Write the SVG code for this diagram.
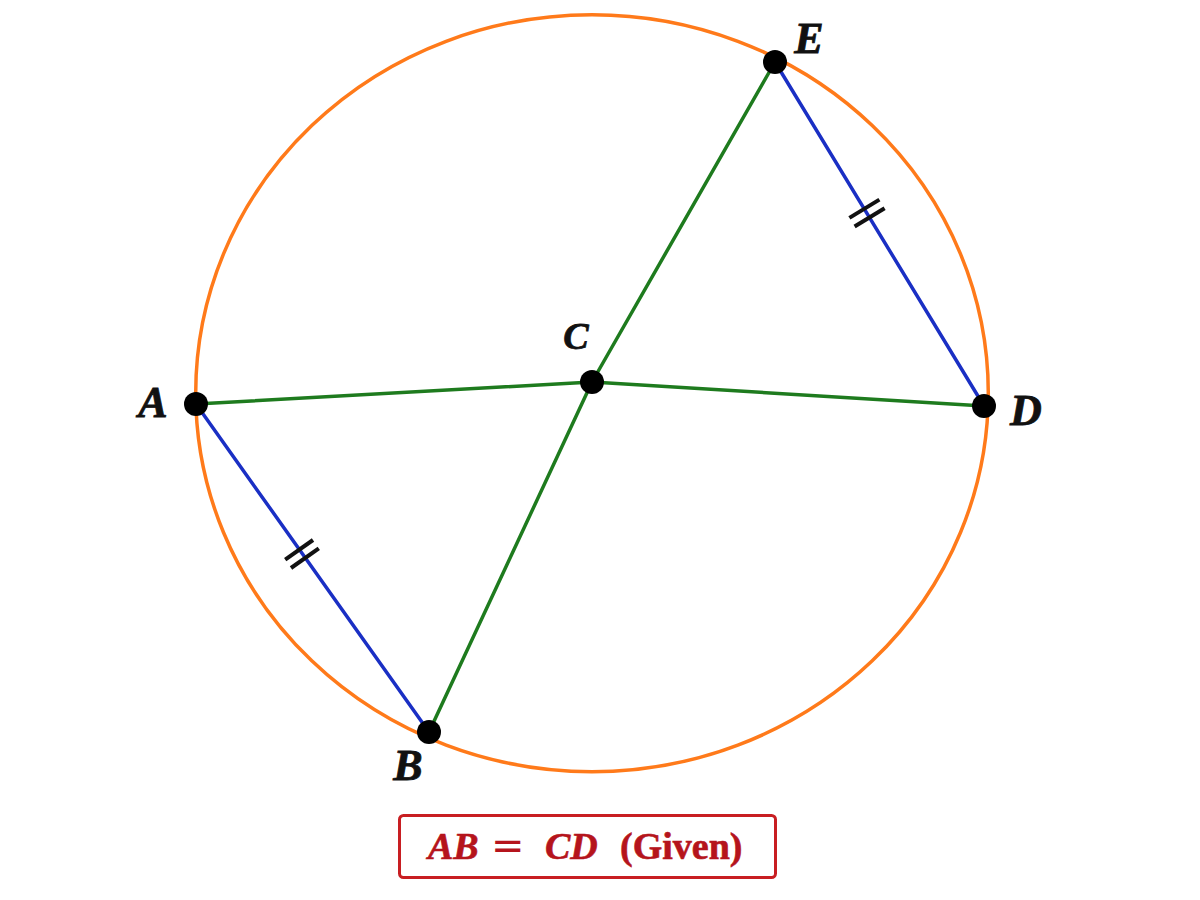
<svg xmlns="http://www.w3.org/2000/svg" width="1200" height="900" viewBox="0 0 1200 900">
  <style>
    .green { stroke: #1e7b1e; stroke-width: 3.5; fill: none; stroke-linecap: round; }
    .blue { stroke: #1a2fc4; stroke-width: 3.5; fill: none; stroke-linecap: round; }
    .tick { stroke: #111111; stroke-width: 4; stroke-linecap: butt; }
    .dot { fill: #000000; }
    .lbl { font-family: "Liberation Serif", "DejaVu Serif", serif; font-weight: bold; font-style: italic; font-size: 44px; fill: #111111; text-anchor: middle; stroke: #111111; stroke-width: 0.8; }
    .eq { font-family: "Liberation Serif", "DejaVu Serif", serif; font-weight: bold; font-size: 38px; fill: #b5141c; stroke: #b5141c; stroke-width: 0.6; }
  </style>
  <rect width="1200" height="900" fill="#ffffff"/>
  <g id="circle">
    <ellipse cx="592" cy="393.2" rx="396.3" ry="378.5" fill="none" stroke="#ff7a1a" stroke-width="3.5"/>
  </g>
  <g id="connectors">
    <line class="green" x1="196" y1="404" x2="592" y2="382"/>
    <line class="green" x1="592" y1="382" x2="984" y2="406"/>
    <line class="green" x1="775" y1="62" x2="592" y2="382"/>
    <line class="green" x1="592" y1="382" x2="429" y2="732"/>
    <line class="blue" x1="196" y1="404" x2="429" y2="732"/>
    <line class="blue" x1="775" y1="62" x2="984" y2="406"/>
    <line class="tick" x1="285.2" y1="559.7" x2="313" y2="540"/>
    <line class="tick" x1="291" y1="568" x2="318.8" y2="548.3"/>
    <line class="tick" x1="849.4" y1="217.9" x2="879.4" y2="199.6"/>
    <line class="tick" x1="854.6" y1="226.5" x2="884.6" y2="208.2"/>
  </g>
  <g id="node-A">
    <circle class="dot" cx="196" cy="404" r="12"/>
    <text class="lbl" x="153" y="417">A</text>
  </g>
  <g id="node-B">
    <circle class="dot" cx="429" cy="732" r="12"/>
    <text class="lbl" x="408" y="780">B</text>
  </g>
  <g id="node-C">
    <circle class="dot" cx="592" cy="382" r="12"/>
    <text class="lbl" x="576" y="349" style="font-size:38px">C</text>
  </g>
  <g id="node-D">
    <circle class="dot" cx="984" cy="406" r="12"/>
    <text class="lbl" x="1026" y="425">D</text>
  </g>
  <g id="node-E">
    <circle class="dot" cx="775" cy="62" r="12"/>
    <text class="lbl" x="809" y="53">E</text>
  </g>
  <g id="caption">
    <rect x="399.5" y="815.5" width="376" height="62" rx="4" fill="#ffffff" stroke="#c81e22" stroke-width="3"/>
    <text class="eq" y="859"><tspan x="428" font-style="italic">AB</tspan><tspan x="491" font-family="'DejaVu Sans', sans-serif" font-weight="normal" font-size="40px" stroke-width="0">=</tspan><tspan x="545" font-style="italic">CD</tspan><tspan x="620">(Given)</tspan></text>
  </g>
</svg>
